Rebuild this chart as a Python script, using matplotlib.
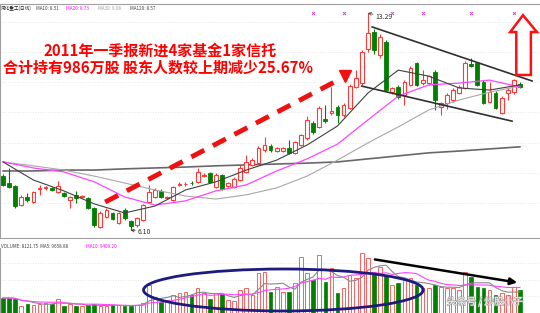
import matplotlib
matplotlib.use("Agg")
import matplotlib.pyplot as plt
from matplotlib.patches import Ellipse, Polygon
import matplotlib.patheffects as pe
import numpy as np
import pandas as pd

plt.rcParams['font.family'] = ['Noto Sans CJK SC', 'DejaVu Sans']

# daily candles (price, yuan)
opens = [7.89, 7.66, 7.56, 6.93, 7.20, 7.03, 7.46, 7.50, 7.50, 7.36,
         7.33, 7.10, 7.27, 7.20, 7.17, 6.84, 6.21, 6.54, 6.67, 6.34,
         6.77, 6.40, 6.27, 6.44, 7.03, 7.20, 7.40, 7.17, 7.10, 7.60,
         7.62, 7.66, 7.70, 7.89, 7.99, 7.53, 7.93, 7.56, 7.53, 7.76,
         8.03, 8.26, 8.32, 8.75, 8.89, 8.72, 8.72, 8.82, 8.66, 8.92,
         9.15, 9.65, 9.52, 9.78, 9.98, 10.18, 9.91, 10.15, 10.84, 10.97,
         12.10, 12.66, 11.90, 12.33, 10.67, 10.84, 10.58, 10.91, 11.63, 10.97,
         10.97, 11.34, 10.18, 10.31, 10.41, 10.64, 10.81, 11.60, 11.63, 11.01,
         10.34, 10.64, 9.98, 10.64, 10.67, 10.94]
closes = [7.60, 7.53, 6.90, 7.20, 7.10, 7.36, 7.50, 7.51, 7.43, 7.56,
          7.23, 7.20, 7.17, 7.21, 6.84, 6.27, 6.67, 6.77, 6.47, 6.67,
          6.50, 6.24, 6.50, 6.93, 7.36, 7.43, 7.20, 7.18, 7.53, 7.63,
          7.64, 7.65, 8.03, 7.93, 7.70, 7.93, 7.46, 7.66, 7.80, 8.16,
          8.36, 8.42, 8.82, 8.92, 8.75, 8.82, 8.82, 8.66, 9.02, 9.25,
          9.75, 9.35, 10.15, 9.71, 10.05, 9.91, 10.24, 10.87, 11.14, 12.00,
          12.63, 12.06, 12.50, 10.74, 10.81, 10.51, 11.01, 11.47, 10.91, 11.07,
          11.20, 10.41, 10.31, 10.58, 10.74, 10.84, 11.63, 11.54, 10.91, 10.31,
          10.67, 10.15, 10.48, 10.74, 11.07, 10.84]
highs = [7.95, 8.16, 7.60, 7.25, 7.33, 7.40, 7.58, 7.56, 7.53, 7.73,
         7.36, 7.23, 7.40, 7.25, 7.20, 6.88, 6.72, 6.85, 6.70, 6.70,
         6.82, 6.44, 6.55, 6.97, 7.60, 7.50, 7.45, 7.22, 7.56, 7.70,
         7.70, 7.72, 8.16, 7.98, 8.03, 7.98, 7.97, 7.70, 7.85, 8.25,
         8.59, 8.48, 8.88, 9.19, 8.95, 8.86, 8.86, 9.09, 9.06, 9.30,
         9.88, 9.70, 10.22, 10.24, 10.84, 10.24, 10.30, 10.94, 11.40, 12.06,
         13.29, 12.75, 12.60, 12.40, 10.85, 10.90, 11.07, 11.55, 11.67, 11.40,
         11.25, 11.40, 10.35, 10.64, 10.80, 10.90, 11.70, 11.80, 11.67, 11.07,
         11.01, 10.70, 10.55, 10.80, 11.12, 11.00]
lows = [7.55, 7.48, 6.85, 6.90, 7.02, 7.00, 7.27, 7.44, 7.40, 7.33,
        7.20, 6.84, 7.00, 7.15, 6.80, 6.22, 6.17, 6.50, 6.44, 6.30,
        6.42, 6.10, 6.22, 6.40, 7.00, 7.15, 7.15, 7.12, 7.05, 7.55,
        7.56, 7.60, 7.66, 7.85, 7.66, 7.50, 7.43, 7.52, 7.48, 7.72,
        8.00, 8.22, 8.28, 8.70, 8.70, 8.68, 8.68, 8.62, 8.62, 8.88,
        9.10, 9.30, 9.48, 9.65, 9.90, 9.65, 9.85, 10.10, 10.80, 10.91,
        12.00, 11.95, 11.80, 10.70, 10.60, 10.45, 10.24, 10.87, 10.87, 10.91,
        10.91, 10.08, 9.91, 10.10, 10.35, 10.60, 10.77, 11.50, 10.87, 10.28,
        10.30, 10.10, 9.95, 10.41, 10.60, 10.80]
volumes = [9000, 9000, 8400, 4200, 5400, 4800, 5400, 6000, 5400, 8400,
           4200, 5400, 4200, 4200, 4800, 5400, 4200, 4200, 4800, 4800,
           4200, 4200, 4800, 6000, 16800, 9600, 6600, 7800, 10800, 12000,
           12600, 10800, 15000, 12000, 8400, 12000, 11400, 7800, 7200, 13800,
           15000, 10800, 24000, 24600, 12600, 15600, 12600, 12600, 18000, 33600,
           24000, 19800, 34800, 18600, 27000, 12000, 15000, 22800, 21000, 36000,
           33000, 24000, 27600, 22800, 16800, 18000, 20400, 21000, 16800, 15000,
           15000, 16800, 15600, 15000, 15000, 13800, 24600, 21600, 15600, 15000,
           13800, 10800, 12000, 10800, 15600, 13800]

# moving averages read every 5 sessions
ma_idx = [0, 5, 10, 15, 20, 25, 30, 35, 40, 45, 50, 55, 60, 65, 70, 75, 80, 85]
ma10 = [8.36, 7.76, 7.40, 6.97, 6.67, 6.90, 7.43, 7.70, 8.09, 8.42,
        8.92, 9.55, 10.64, 11.40, 11.20, 10.81, 10.74, 10.91]
ma20 = [8.36, 8.16, 8.03, 7.70, 7.20, 6.93, 7.07, 7.40, 7.60, 8.06,
        8.46, 8.95, 9.75, 10.54, 10.91, 10.97, 11.07, 10.84]
ma30 = [8.36, 8.23, 8.09, 7.89, 7.66, 7.43, 7.23, 7.13, 7.27, 7.50,
        7.89, 8.42, 8.99, 9.52, 10.08, 10.41, 10.67, 10.87]
ma120 = [8.06, 8.06, 8.09, 8.09, 8.13, 8.16, 8.19, 8.23, 8.26, 8.29,
         8.32, 8.36, 8.46, 8.56, 8.66, 8.72, 8.79, 8.86]

mark_idx = [51, 56, 64, 69, 77, 84]

o = np.array(opens)
c = np.array(closes)
h = np.array(highs)
l = np.array(lows)
v = np.array(volumes)
idx = np.arange(len(o))
up = c >= o

red = '#ff3838'
green = '#007f00'
grid_c = '#dcdcdc'

fig = plt.figure(figsize=(5.4, 3.13), dpi=100)
ax = fig.add_axes([0, 1 - 238 / 313, 1, 234 / 313])
axv = fig.add_axes([0, 0, 1, 65 / 313])

# candles
w = 0.62
ax.vlines(idx[up], l[up], h[up], color=red, lw=0.8, zorder=2)
ax.vlines(idx[~up], l[~up], h[~up], color=green, lw=0.8, zorder=2)
lo = np.minimum(o, c)
bh = np.maximum(np.abs(c - o), 0.025)
ax.bar(idx[up], bh[up], w, bottom=lo[up], facecolor='white', edgecolor=red, lw=0.8, zorder=3)
ax.bar(idx[~up], bh[~up], w, bottom=lo[~up], facecolor=green, edgecolor=green, lw=0.6, zorder=3)

ax.plot(ma_idx, ma120, color='#686868', lw=1.2, zorder=1.5)
ax.plot(ma_idx, ma30, color='#a8a8a8', lw=0.8, zorder=4)
ax.plot(ma_idx, ma20, color='#ff44ff', lw=0.9, zorder=4)
ax.plot(ma_idx, ma10, color='#404040', lw=0.8, zorder=4)

ax.plot(mark_idx, [13.29] * len(mark_idx), ls='none', marker='x', ms=2, mew=0.7, color='#e040e0')

ax.set_xlim(-0.5, 88.3)
ax.set_ylim(5.84, 13.59)
ax.set_yticks([7, 8, 9, 10, 11, 12, 13])
ax.set_xticks([])
ax.grid(axis='y', color=grid_c, ls=(0, (1, 2)), lw=0.6)
ax.tick_params(left=False, labelleft=False)
ax.spines['right'].set_visible(False)
for s in ['top', 'left', 'bottom']:
    ax.spines[s].set_color('#a0a0a0')
    ax.spines[s].set_linewidth(0.8)

# high / low labels
ax.annotate('13.29', xy=(60, 13.29), xytext=(61.3, 13.16), fontsize=5, color='#303030', va='center',
            arrowprops=dict(arrowstyle='->', lw=0.5, color='#303030', shrinkA=0, shrinkB=0))
ax.annotate('6.10', xy=(21, 6.10), xytext=(22.2, 6.04), fontsize=5, color='#303030', va='center',
            arrowprops=dict(arrowstyle='->', lw=0.5, color='#303030', shrinkA=0, shrinkB=0))

# red dashed trend arrow
ax.plot([16.8, 55.1], [7.03, 11.07], color='#f01010', lw=3.5, dashes=(3, 2), solid_capstyle='butt', zorder=6)
ax.plot([56.3], [11.22], marker='v', ms=9, color='#f01010', zorder=6)

# converging channel
ax.plot([60.7, 87.0], [12.83, 11.04], color='#303030', lw=1.2, zorder=5)
ax.plot([59.0, 83.7], [10.87, 9.71], color='#303030', lw=1.2, zorder=5)

# hollow up arrow
arrow = Polygon([(84.4, 11.24), (86.8, 11.24), (86.8, 12.66), (87.8, 12.66),
                 (85.5, 13.22), (83.4, 12.66), (84.4, 12.66)],
                closed=True, facecolor='white', edgecolor='#ff1010', lw=1.8, zorder=7)
ax.add_patch(arrow)

# volume panel
vw = 0.6
axv.bar(idx[up], v[up], vw, facecolor='white', edgecolor='#ff6060', lw=0.7, zorder=2)
axv.bar(idx[~up], v[~up], vw, facecolor=green, edgecolor=green, lw=0.5, zorder=2)
vs = pd.Series(v)
axv.plot(idx, vs.rolling(5, min_periods=1).mean(), color='#888888', lw=0.8, zorder=3)
axv.plot(idx, vs.rolling(10, min_periods=1).mean(), color='#ff44ff', lw=0.8, zorder=3)

axv.add_patch(Ellipse((46.1, 13800), 46, 25200, fill=False, edgecolor='#1c1c80', lw=2, zorder=5, clip_on=False))
axv.annotate('', xy=(85.0, 18000), xytext=(60.7, 32400),
             arrowprops=dict(arrowstyle='-|>', color='black', lw=1.8, mutation_scale=10))

axv.set_xlim(-0.5, 88.3)
axv.set_ylim(0, 39000)
axv.set_yticks([10000, 20000, 30000])
axv.set_xticks([])
axv.grid(axis='y', color=grid_c, ls=(0, (1, 2)), lw=0.6)
axv.tick_params(left=False, labelleft=False)
for s in ['top', 'right', 'bottom']:
    axv.spines[s].set_visible(False)
axv.spines['left'].set_color('#a0a0a0')

# header texts
hy = 1 - 8 / 313
fs = 3.3
fig.text(0.002, hy, '河化重工(日线)', fontsize=fs, color='#202020', va='center')
fig.text(36 / 540, hy, 'MA10: 8.51', fontsize=fs, color='#404040', va='center')
fig.text(66 / 540, hy, 'MA20: 8.73', fontsize=fs, color='#ff00ff', va='center')
fig.text(98 / 540, hy, 'MA30: 9.08', fontsize=fs, color='#a0a0a0', va='center')
fig.text(130 / 540, hy, 'MA120: 8.57', fontsize=fs, color='#404040', va='center')

vy = 1 - 246 / 313
fig.text(0.002, vy, 'VOLUME: 8121.75  MA5: 9658.88', fontsize=fs, color='#404040', va='center')
fig.text(86 / 540, vy, 'MA10: 9409.20', fontsize=fs, color='#ff00ff', va='center')

# red note
fig.text(160 / 540, 1 - 51 / 313, '2011年一季报新进4家基金1家信托', fontsize=10.8,
         fontweight='bold', color='#ff0000', ha='center', va='center')
fig.text(158 / 540, 1 - 68 / 313, '合计持有986万股 股东人数较上期减少25.67%', fontsize=10.8,
         fontweight='bold', color='#ff0000', ha='center', va='center')

# watermark
fig.text(485 / 540, 1 - 302 / 313, '头条号 / 炒股小子', fontsize=7, color='white', ha='center', va='center',
         alpha=0.9, path_effects=[pe.withStroke(linewidth=1.0, foreground='#a0a0a0')])

fig.savefig('out.png', dpi=100)
